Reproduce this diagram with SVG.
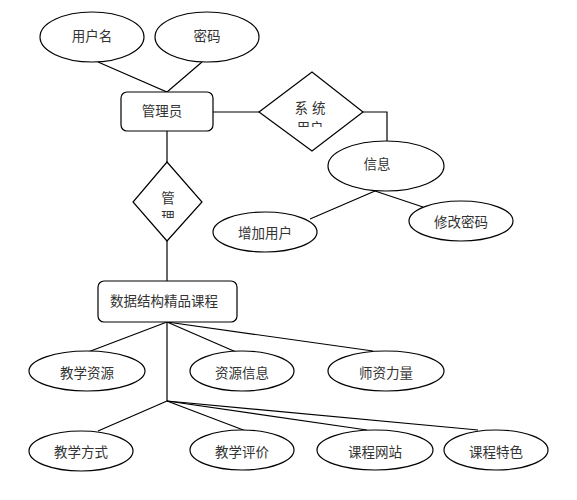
<svg xmlns="http://www.w3.org/2000/svg" width="577" height="500" viewBox="0 0 577 500">
<defs>
<style>
.s{fill:#fff;stroke:#000;stroke-width:1.2}
.c{fill:none;stroke:#000;stroke-width:1.2}
.t{font-family:"Noto Sans CJK SC","Noto Sans",sans-serif;font-size:13.5px;fill:#333;text-anchor:middle;dominant-baseline:central}
</style>
<clipPath id="clipA"><rect x="270" y="80" width="80" height="47"/></clipPath>
<clipPath id="clipB"><rect x="140" y="180" width="55" height="38"/></clipPath>
</defs>
<rect width="577" height="500" fill="#fff"/>
<g id="connectors">
<polyline class="c" points="98,62 167,92 202,62"/>
<line class="c" x1="213" y1="112" x2="259" y2="112"/>
<polyline class="c" points="363,112 387,112 387,141"/>
<line class="c" x1="167" y1="131" x2="167" y2="162"/>
<line class="c" x1="167" y1="241" x2="167" y2="281"/>
<line class="c" x1="375" y1="191" x2="310" y2="219"/>
<line class="c" x1="375" y1="191" x2="423" y2="207"/>
<line class="c" x1="167" y1="322" x2="167" y2="401"/>
<line class="c" x1="167" y1="322" x2="88" y2="352"/>
<line class="c" x1="167" y1="322" x2="236" y2="352"/>
<line class="c" x1="167" y1="322" x2="373" y2="351"/>
<line class="c" x1="167" y1="401" x2="98" y2="431"/>
<line class="c" x1="167" y1="401" x2="246" y2="431"/>
<line class="c" x1="167" y1="401" x2="367" y2="430"/>
<line class="c" x1="167" y1="401" x2="478" y2="430"/>
</g>
<g id="username"><ellipse class="s" cx="92" cy="37" rx="52" ry="25"/><text class="t" x="92" y="35">用户名</text></g>
<g id="password"><ellipse class="s" cx="207" cy="37" rx="52" ry="25"/><text class="t" x="207" y="35">密码</text></g>
<g id="admin"><rect class="s" x="121" y="92" width="92" height="39" rx="6"/><text class="t" x="162" y="110">管理员</text></g>
<g id="sysuser"><polygon class="s" points="259,112 312,72 363,112 312,151"/>
<g clip-path="url(#clipA)"><text class="t" x="312" y="107" letter-spacing="4">系统</text><text class="t" x="310" y="127" font-size="12">用户</text></g></g>
<g id="info"><ellipse class="s" cx="386" cy="166" rx="58" ry="25"/><text class="t" x="377" y="163">信息</text></g>
<g id="adduser"><ellipse class="s" cx="265" cy="232" rx="52" ry="20"/><text class="t" x="265" y="232">增加用户</text></g>
<g id="changepwd"><ellipse class="s" cx="461" cy="221" rx="52" ry="20"/><text class="t" x="461" y="221">修改密码</text></g>
<g id="manage"><polygon class="s" points="167,162 202,202 167,241 133,202"/>
<g clip-path="url(#clipB)"><text class="t" x="168" y="197">管</text><text class="t" x="168" y="216" font-size="12">理</text></g></g>
<g id="course"><rect class="s" x="98" y="281" width="139" height="41" rx="6"/><text class="t" x="164" y="300">数据结构精品课程</text></g>
<g id="teachres"><ellipse class="s" cx="87" cy="371" rx="58" ry="20"/><text class="t" x="87" y="372">教学资源</text></g>
<g id="resinfo"><ellipse class="s" cx="242" cy="371" rx="52" ry="20"/><text class="t" x="242" y="372">资源信息</text></g>
<g id="faculty"><ellipse class="s" cx="386" cy="371" rx="58" ry="20"/><text class="t" x="386" y="372">师资力量</text></g>
<g id="teachway"><ellipse class="s" cx="81" cy="451" rx="52" ry="20"/><text class="t" x="81" y="451">教学方式</text></g>
<g id="teacheval"><ellipse class="s" cx="242" cy="450" rx="52" ry="20"/><text class="t" x="242" y="451">教学评价</text></g>
<g id="website"><ellipse class="s" cx="375" cy="450" rx="58" ry="20"/><text class="t" x="375" y="451">课程网站</text></g>
<g id="feature"><ellipse class="s" cx="496" cy="450" rx="52" ry="20"/><text class="t" x="496" y="451">课程特色</text></g>
</svg>
